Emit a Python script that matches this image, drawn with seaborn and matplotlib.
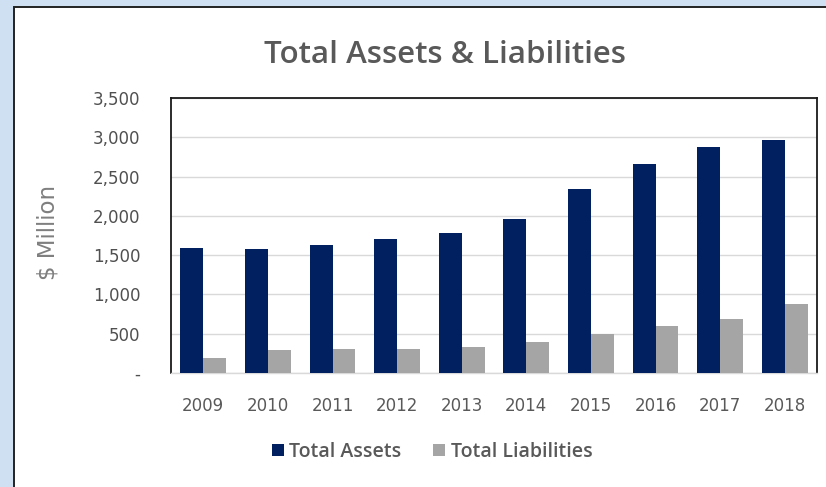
import matplotlib
matplotlib.use("Agg")
import matplotlib.pyplot as plt
import matplotlib.patches as mpatches
import seaborn as sns
import pandas as pd

# Balance sheet totals, $ million
years = ["2009", "2010", "2011", "2012", "2013", "2014", "2015", "2016", "2017", "2018"]
total_assets = [1595, 1575, 1635, 1705, 1780, 1955, 2340, 2665, 2870, 2965]
total_liabilities = [195, 293, 310, 310, 327, 390, 500, 598, 690, 882]
series_names = ["Total Assets", "Total Liabilities"]
y_ticks = [0, 500, 1000, 1500, 2000, 2500, 3000, 3500]
y_tick_labels = ["-", "500", "1,000", "1,500", "2,000", "2,500", "3,000", "3,500"]

df = pd.DataFrame({
    "Year": years * 2,
    "Value": total_assets + total_liabilities,
    "Series": [series_names[0]] * len(years) + [series_names[1]] * len(years),
})

sns.set_style("white")
plt.rcParams["font.family"] = ["DejaVu Sans"]

W, H = 826, 487
fig = plt.figure(figsize=(W / 100, H / 100), dpi=100)
fig.patch.set_facecolor("#cfe0f2")

# White chart panel with dark outline
panel = mpatches.Rectangle((13.5 / W, -0.05), 1.2, 1 - 6.5 / H + 0.05,
                           transform=fig.transFigure, facecolor="white",
                           edgecolor="#222222", linewidth=1.4, zorder=-10)
fig.patches.append(panel)

ax = fig.add_axes([171 / W, 1 - 373 / H, 646 / W, 275 / H])
ax.set_facecolor("white")

palette = {series_names[0]: "#002060", series_names[1]: "#a5a5a5"}
sns.barplot(data=df, x="Year", y="Value", hue="Series", palette=palette,
            width=0.71, gap=0, saturation=1, linewidth=0, ax=ax,
            legend=True, zorder=3)

ax.set_ylim(0, 3500)
ax.set_xlim(-0.5, len(years) - 0.5)
ax.set_yticks(y_ticks)
ax.set_yticklabels(y_tick_labels)
ax.yaxis.grid(True, color="#d9d9d9", linewidth=1.0, zorder=0)
ax.set_axisbelow(True)
ax.tick_params(axis="y", length=0, pad=22, labelsize=12, labelcolor="#505050")
ax.tick_params(axis="x", length=0, pad=17, labelsize=12, labelcolor="#595959")
for side in ("left", "top", "right"):
    ax.spines[side].set_color("#1a1a1a")
    ax.spines[side].set_linewidth(1.3)
ax.spines["bottom"].set_color("#d9d9d9")
ax.spines["bottom"].set_linewidth(1.0)

ax.set_xlabel("")
ax.set_ylabel("$ Million", fontsize=16.5, color="#7f7f7f")
ax.yaxis.set_label_coords(-(171 - 60) / 646, (373 - 232) / 275)

fig.text(445 / W, 1 - 55 / H, "Total Assets & Liabilities", ha="center", va="center",
         fontsize=22.5, color="#595959", family=["Open Sans", "DejaVu Sans"],
         fontweight="semibold")

handles, labels = ax.get_legend_handles_labels()
ax.legend(handles, labels, loc="center", bbox_to_anchor=(432 / W, 1 - 452 / H),
          bbox_transform=fig.transFigure, ncol=2, frameon=False,
          handlelength=0.62, handleheight=0.62, handletextpad=0.3,
          columnspacing=1.6, prop={"family": ["Open Sans", "DejaVu Sans"],
                                   "size": 14, "weight": "semibold"},
          labelcolor="#595959")

fig.savefig("out.png", dpi=100, facecolor=fig.get_facecolor())
